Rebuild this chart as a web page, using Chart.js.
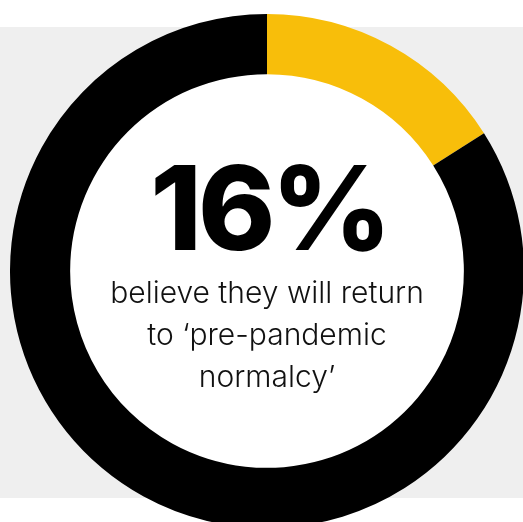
<!DOCTYPE html>
<html>
<head>
<meta charset="utf-8">
<script src="https://cdn.jsdelivr.net/npm/chart.js@4/dist/chart.umd.min.js"></script>
<style>
  html, body { margin: 0; padding: 0; width: 523px; height: 522px; overflow: hidden; background: #ffffff; }
  #band { position: absolute; left: 0; top: 27px; width: 523px; height: 471px; background: #efefef; }
  #wrap { position: absolute; left: 10px; top: 14px; width: 514px; height: 514px; }
</style>
</head>
<body>
<div id="band"></div>
<div id="wrap"><canvas id="chart" width="514" height="514"></canvas></div>
<script>
// Share of respondents expecting a return to pre-pandemic normalcy
const categories = ['Return to pre-pandemic normalcy', 'Do not expect a return'];
const shares = [16, 84];
const sliceColors = ['#f8be0a', '#000000'];
const headline = shares[0] + '%';
const captionLines = ['believe they will return', 'to \u2018pre-pandemic', 'normalcy\u2019'];

// White disc inside the ring plus the headline figure and caption
const centerText = {
  id: 'centerText',
  beforeDatasetsDraw(chart) {
    const arc = chart.getDatasetMeta(0).data[0];
    if (!arc) return;
    const { ctx } = chart;
    ctx.save();
    ctx.fillStyle = '#ffffff';
    ctx.beginPath();
    ctx.arc(arc.x, arc.y, arc.innerRadius + 1, 0, Math.PI * 2);
    ctx.fill();
    ctx.restore();
  },
  afterDraw(chart) {
    const { ctx, chartArea } = chart;
    const cx = (chartArea.left + chartArea.right) / 2;
    const cy = (chartArea.top + chartArea.bottom) / 2;
    ctx.save();
    ctx.fillStyle = '#000000';
    ctx.textAlign = 'center';
    ctx.textBaseline = 'alphabetic';
    ctx.font = '800 117px Inter, "Liberation Sans", sans-serif';
    if ('letterSpacing' in ctx) ctx.letterSpacing = '-4px';
    ctx.fillText(headline, cx + 2, cy - 21);
    if ('letterSpacing' in ctx) ctx.letterSpacing = '0px';
    ctx.fillStyle = '#111111';
    ctx.font = '300 30px Inter, "Liberation Sans", sans-serif';
    const baselines = [32, 74, 116];
    captionLines.forEach((line, i) => ctx.fillText(line, cx, cy + baselines[i]));
    ctx.restore();
  }
};

new Chart(document.getElementById('chart'), {
  type: 'doughnut',
  data: {
    labels: categories,
    datasets: [{
      data: shares,
      backgroundColor: sliceColors,
      borderWidth: 0,
      hoverOffset: 0
    }]
  },
  options: {
    responsive: false,
    animation: false,
    cutout: '76.6%',
    rotation: 0,
    layout: { padding: 0 },
    plugins: {
      legend: { display: false },
      tooltip: { enabled: false }
    }
  },
  plugins: [centerText]
});
</script>
</body>
</html>
